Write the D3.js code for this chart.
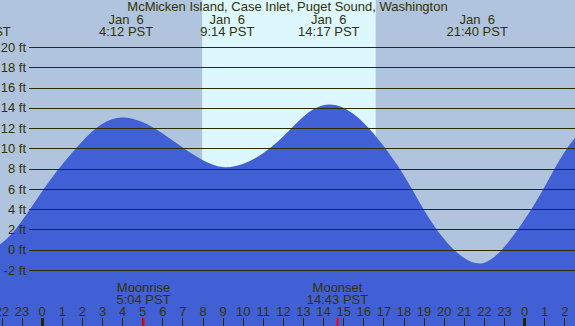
<!DOCTYPE html>
<html>
<head>
<meta charset="utf-8">
<script src="https://cdn.jsdelivr.net/npm/d3@7"></script>
<style>
  body { margin: 0; background: #fff; }
  svg { display: block; font-family: "Liberation Sans", Arial, sans-serif; }
  .lbl { font-size: 13px; fill: #333300; white-space: pre; }
</style>
</head>
<body>
<svg id="chart"></svg>
<script>
const title = 'McMicken Island, Case Inlet, Puget Sound, Washington';

// hours counted from Jan 6 00:00 PST, tide height in ft
const hours   = [-3, -2, -1, 0, 1, 2, 3, 4, 5, 6, 7, 8, 9, 10, 11, 12, 13, 14, 15,
                 16, 17, 18, 19, 20, 21, 22, 23, 24, 25, 26, 27];
const heights = [-0.1, 0.65, 2.8, 5.7, 8.35, 10.65, 12.4, 13.05, 12.6, 11.5, 10.1, 8.85,
                 8.15, 8.45, 9.5, 11.15, 13.1, 14.25, 14.0, 12.55, 10.25, 7.4, 4.0,
                 1.1, -0.8, -1.3, 0.25, 2.9, 6.15, 9.6, 12.1];

const tideDays  = [5, 6, 6, 6, 6];
const tideTimes = ['20:56', '4:12', '9:14', '14:17', '21:40'];

const moonLabels = ['Moonrise', 'Moonset'];
const moonTimes  = ['5:04', '14:43'];

const sunTimes = ['7:59', '16:37'];   // daylight band

const yTicks    = [-2, 0, 2, 4, 6, 8, 10, 12, 14, 16, 18, 20];
const hourTicks = [-2, -1, 0, 1, 2, 3, 4, 5, 6, 7, 8, 9, 10, 11, 12, 13, 14, 15,
                   16, 17, 18, 19, 20, 21, 22, 23, 24, 25, 26];

class TideChart {

  constructor(_config) {
    this.config = {
      parentElement: _config.parentElement,
      containerWidth: _config.containerWidth || 575,
      containerHeight: _config.containerHeight || 326
    };
    this.initVis();
  }

  initVis() {
    let vis = this;
    const W = vis.config.containerWidth, H = vis.config.containerHeight;

    vis.toHour = (t, day = 6) => {
      const [h, m] = t.split(':').map(Number);
      return (day - 6) * 24 + h + m / 60;
    };

    vis.xScale = d3.scaleLinear().domain([0, 24]).range([41.7, 524.1]);
    vis.yScale = d3.scaleLinear().domain([-2, 20]).range([270, 47]);

    vis.svg = d3.select(vis.config.parentElement)
        .attr('width', W)
        .attr('height', H);

    // night background + daylight band
    vis.svg.append('rect')
        .attr('width', W).attr('height', H)
        .attr('fill', '#b0c4de');

    const sun = sunTimes.map(t => vis.xScale(vis.toHour(t)));
    vis.svg.append('rect')
        .attr('x', sun[0]).attr('y', 0)
        .attr('width', sun[1] - sun[0]).attr('height', H)
        .attr('fill', '#ddf7fe');

    // water
    vis.data = hours.map((h, i) => ({ h: h, v: heights[i] }));
    vis.area = d3.area()
        .x(d => vis.xScale(d.h))
        .y0(H)
        .y1(d => vis.yScale(d.v))
        .curve(d3.curveNatural);

    vis.svg.append('path')
        .datum(vis.data)
        .attr('fill', '#4160d5')
        .attr('d', vis.area);

    // height grid
    vis.yAxis = d3.axisLeft(vis.yScale)
        .tickValues(yTicks)
        .tickSize(-(W - 29))
        .tickPadding(3)
        .tickFormat(d => d + ' ft');

    vis.yAxisG = vis.svg.append('g')
        .attr('transform', 'translate(29,0)')
        .call(vis.yAxis);
    vis.yAxisG.select('.domain').remove();
    vis.yAxisG.selectAll('line')
        .attr('stroke', '#2b2b00')
        .attr('shape-rendering', 'crispEdges');
    vis.yAxisG.selectAll('text')
        .attr('class', 'lbl')
        .attr('font-size', null);

    // hour axis along the bottom
    vis.xAxis = d3.axisTop(vis.xScale)
        .tickValues(hourTicks)
        .tickSize(8)
        .tickPadding(2)
        .tickFormat(d => ((d % 24) + 24) % 24);

    vis.xAxisG = vis.svg.append('g')
        .attr('transform', `translate(0,${H})`)
        .call(vis.xAxis);
    vis.xAxisG.select('.domain').remove();
    vis.xAxisG.selectAll('line')
        .attr('stroke', '#2b2b00')
        .attr('shape-rendering', 'crispEdges');
    vis.xAxisG.selectAll('.tick')
        .filter(d => d % 24 === 0)
        .select('line')
        .attr('stroke', '#222200')
        .attr('stroke-width', 3);
    vis.xAxisG.selectAll('text')
        .attr('class', 'lbl')
        .attr('font-size', null);

    vis.renderVis();
  }

  renderVis() {
    let vis = this;
    const H = vis.config.containerHeight;

    vis.svg.append('text')
        .attr('class', 'lbl')
        .attr('x', vis.config.containerWidth / 2)
        .attr('y', 11)
        .attr('text-anchor', 'middle')
        .text(title);

    // high / low tide labels
    const tides = vis.svg.selectAll('.tide')
        .data(tideTimes.map((t, i) => ({ t: t, day: tideDays[i] })))
        .join('g')
        .attr('class', 'tide')
        .attr('transform', d => `translate(${vis.xScale(vis.toHour(d.t, d.day))},0)`);
    tides.append('text')
        .attr('class', 'lbl')
        .attr('y', 23.5)
        .attr('text-anchor', 'middle')
        .text(d => 'Jan  ' + d.day);
    tides.append('text')
        .attr('class', 'lbl')
        .attr('y', 35.5)
        .attr('text-anchor', 'middle')
        .text(d => d.t + ' PST');

    // moonrise / moonset
    const moon = vis.svg.selectAll('.moon')
        .data(moonTimes.map((t, i) => ({ t: t, label: moonLabels[i] })))
        .join('g')
        .attr('class', 'moon')
        .attr('transform', d => `translate(${vis.xScale(vis.toHour(d.t))},0)`);
    moon.append('text')
        .attr('class', 'lbl')
        .attr('y', 291.5)
        .attr('text-anchor', 'middle')
        .text(d => d.label);
    moon.append('text')
        .attr('class', 'lbl')
        .attr('y', 303.5)
        .attr('text-anchor', 'middle')
        .text(d => d.t + ' PST');
    moon.append('line')
        .attr('y1', H - 8).attr('y2', H)
        .attr('stroke', 'red')
        .attr('stroke-width', 2);
  }
}

new TideChart({ parentElement: '#chart' });
</script>
</body>
</html>
